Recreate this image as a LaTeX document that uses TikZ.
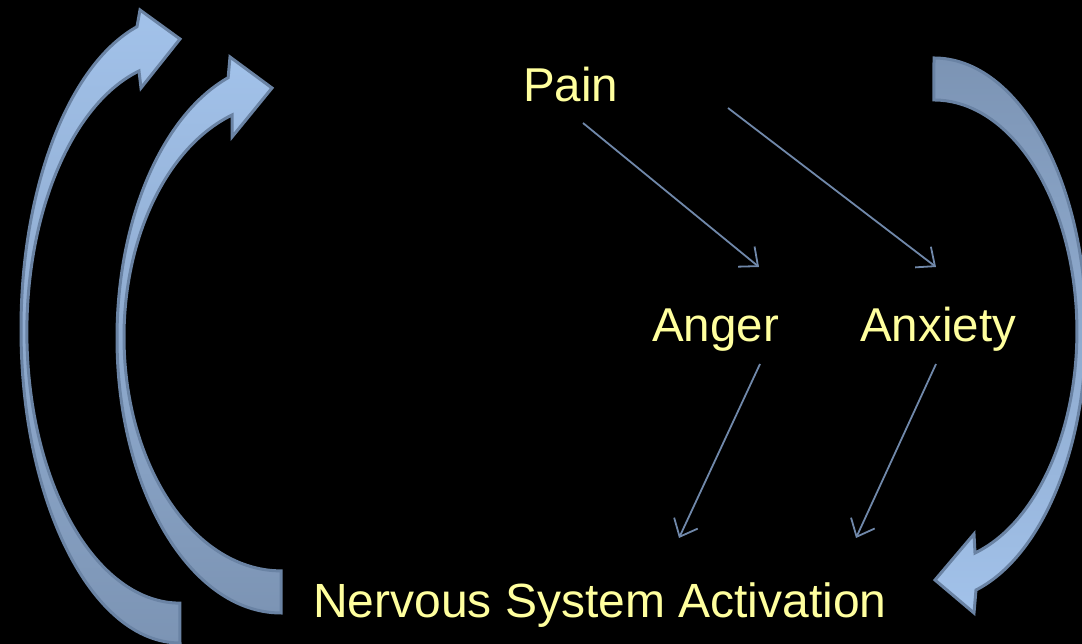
\documentclass[tikz,border=0pt]{standalone}
\usepackage{fontspec}
\setmainfont{Liberation Sans}
\usetikzlibrary{arrows.meta}
\definecolor{txt}{HTML}{FFFF9E}
\definecolor{lnk}{HTML}{7088AA}
\definecolor{edge}{HTML}{6A83A4}
\definecolor{lite}{HTML}{A2C2EA}
\definecolor{dark}{HTML}{7C94B4}
\tikzset{
  lbl/.style={text=txt, inner sep=0pt, anchor=base west, font=\fontsize{47.5pt}{57pt}\selectfont},
  link/.style={draw=lnk, line width=1.8pt, -{Straight Barb[length=15pt,width=26pt,line width=1.8pt]}},
  bigarrow/.style={draw=edge, line width=3pt, line join=miter}
}
\begin{document}
\begin{tikzpicture}[x=1pt,y=1pt]
\fill[black] (0,0) rectangle (1082,644);
\useasboundingbox (0,0) rectangle (1082,644);
\begin{scope}
\clip (0,0) rectangle (1082,644);
% left outer curved arrow
\path[bigarrow, top color=lite, bottom color=dark]
  (180,1) arc[start angle=270, end angle=105.7, x radius=159pt, y radius=314pt]
  -- (140,634) -- (180,605) -- (141,556) -- (139,573)
  arc[start angle=105.5, end angle=270, x radius=153pt, y radius=271pt]
  -- cycle;
% left inner curved arrow
\path[bigarrow, top color=lite, bottom color=dark]
  (281,31) arc[start angle=270, end angle=108.8, x radius=164pt, y radius=275pt]
  -- (230,587) -- (272,556) -- (232,507) -- (232,529)
  arc[start angle=108.2, end angle=270, x radius=157pt, y radius=233.8pt]
  -- cycle;
% right curved arrow
\path[bigarrow, top color=dark, bottom color=lite]
  (934,586) arc[start angle=90, end angle=-73.97, x radius=152pt, y radius=271.3pt]
  -- (974,31) -- (935,64) -- (974,110) -- (975,91)
  arc[start angle=-73.3, end angle=90, x radius=143pt, y radius=231.4pt]
  -- cycle;
\end{scope}
% labels
\node[lbl] (pain) at (523,542) {Pain};
\node[lbl] (anger) at (652,302) {Anger};
\node[lbl] (anxiety) at (860,302) {Anxiety};
\node[lbl, font=\fontsize{48pt}{57pt}\selectfont] (nsa) at (313,26) {Nervous System Activation};
% connector end points
\coordinate (p1) at (583,521);
\coordinate (a1) at (759,377);
\coordinate (p2) at (728,536);
\coordinate (x1) at (936,377);
\coordinate (a2) at (760,280);
\coordinate (n1) at (679,106);
\coordinate (x2) at (936,280);
\coordinate (n2) at (856,106);
\draw[link] (p1) -- (a1);
\draw[link] (p2) -- (x1);
\draw[link] (a2) -- (n1);
\draw[link] (x2) -- (n2);
\end{tikzpicture}
\end{document}
